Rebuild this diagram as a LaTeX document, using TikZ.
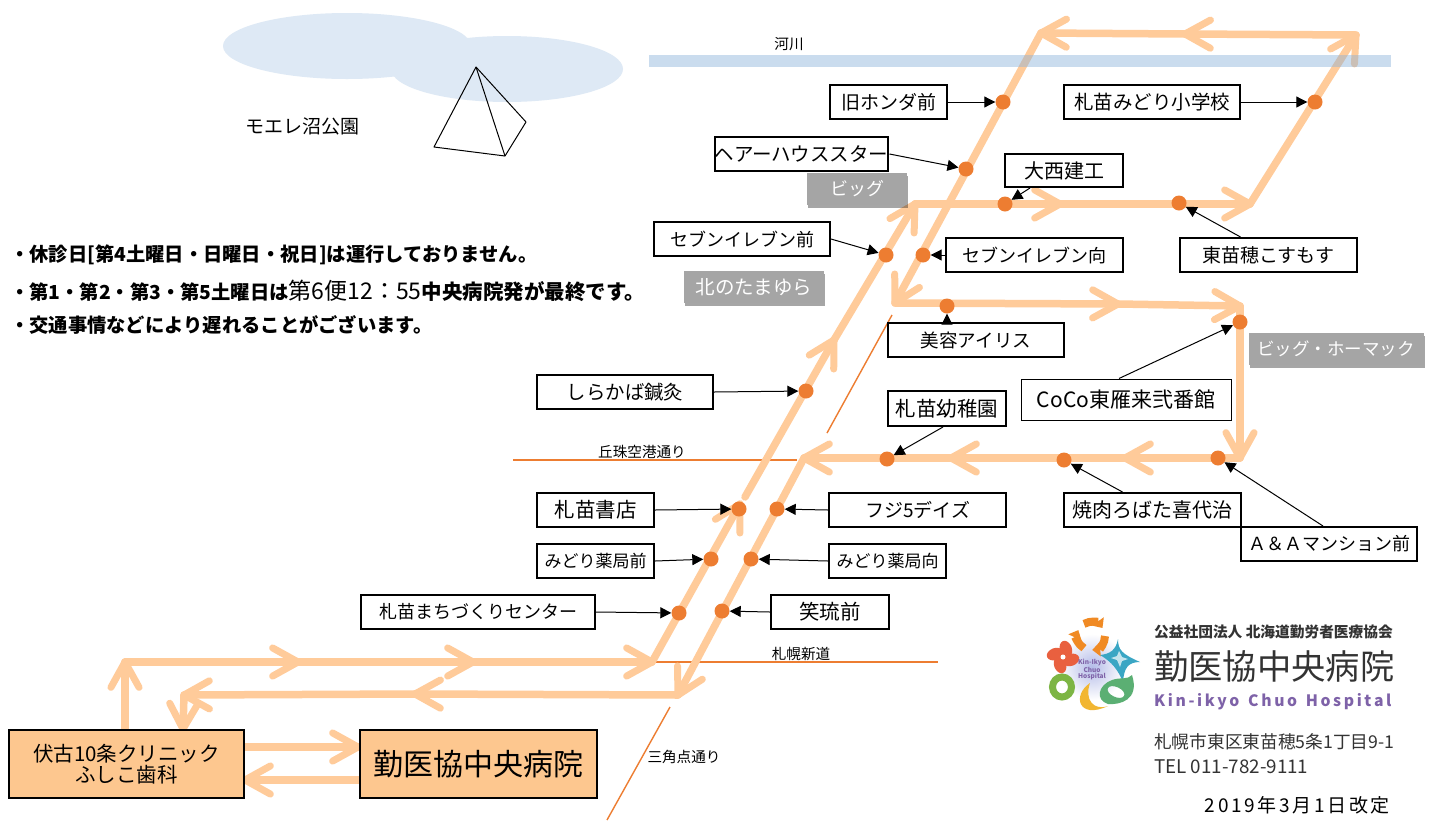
\documentclass[tikz,border=0pt]{standalone}
\usepackage{fontspec}
\setmainfont{Noto Sans CJK JP}
\usetikzlibrary{arrows.meta,shadows,calc}
\definecolor{routec}{HTML}{FFCB9A}
\definecolor{dotc}{HTML}{ED7D31}
\definecolor{parkc}{HTML}{DEE9F5}
\definecolor{riverc}{HTML}{8AB2DA}
\definecolor{greyc}{HTML}{A5A5A5}
\definecolor{boxc}{HTML}{FDC78F}
\definecolor{logoink}{HTML}{333333}
\definecolor{logopurple}{HTML}{7E62A8}
\definecolor{logoorange}{HTML}{F08A24}
\definecolor{logored}{HTML}{E9603F}
\definecolor{logoteal}{HTML}{3AA6C4}
\definecolor{logogreen}{HTML}{7DB544}
\definecolor{logoyellow}{HTML}{F2B632}
\definecolor{logodrop}{HTML}{5BAF73}
\definecolor{logoblob}{HTML}{B4BCE8}
\newcommand{\fs}[1]{\fontsize{#1pt}{#1pt}\selectfont}
\newcommand{\routeseg}[2]{%
  \draw[routeline] (#1) -- (#2);
  \draw[routewing] ($(#2)!29pt!29:(#1)$) -- (#2) -- ($(#2)!29pt!-29:(#1)$);
}
\tikzset{
  routeline/.style={draw=routec,line width=7.5pt,line cap=round,line join=round},
  routewing/.style={draw=routec,line width=7pt,line cap=round,line join=round},
  stopbox/.style={draw=black,line width=2pt,fill=white,minimum height=34pt,inner sep=0pt,font=\fs{19}},
  thinbox/.style={draw=black,line width=1pt,fill=white,inner sep=0pt,font=\fs{21}},
  areabox/.style={fill=greyc,text=white,minimum height=32pt,inner sep=0pt,font=\fs{18},
    drop shadow={shadow xshift=1pt,shadow yshift=-2.5pt,opacity=.35,fill=black}},
  basebox/.style={draw=black,line width=2pt,fill=boxc,minimum height=68pt,inner sep=0pt,align=center},
  stopdot/.style={circle,fill=dotc,minimum size=15pt,inner sep=0pt},
  lead/.style={draw=black,line width=1pt,-{Triangle[length=11pt,width=11pt]}},
  road/.style={draw=dotc,line width=1.4pt},
  lbl/.style={inner sep=0pt,font=\fs{14.6}},
  pyr/.style={draw=black,line width=1pt,line join=round},
  notetext/.style={inner sep=0pt,anchor=west,font=\bfseries\fs{19.3}},
  logotext/.style={inner sep=0pt,anchor=west,text=logoink},
}
\begin{document}
\begin{tikzpicture}[x=1pt,y=-1pt]
\useasboundingbox (0,0) rectangle (1430,820);
\fill[white] (0,0) rectangle (1430,820);

% park
\fill[parkc] (347,46) ellipse [x radius=124,y radius=33];
\fill[parkc] (507,69) ellipse [x radius=116,y radius=33];
\coordinate (pa) at (476,67);
\coordinate (pb) at (434,147);
\coordinate (pc) at (505,156);
\coordinate (pd) at (526,122);
\draw[pyr] (pa) -- (pb) -- (pc) -- (pd) -- cycle;
\draw[pyr] (pa) -- (pc);
\node[lbl,font=\fs{19}] (park) at (302,126) {モエレ沼公園};

% roads
\coordinate (ra1) at (513,460); \coordinate (ra2) at (797,460);
\coordinate (rb1) at (827,433); \coordinate (rb2) at (892,315);
\coordinate (rc1) at (655,662); \coordinate (rc2) at (938,662);
\coordinate (rd1) at (607,820); \coordinate (rd2) at (670,707);
\draw[road] (ra1) -- (ra2);
\draw[road] (rb1) -- (rb2);
\draw[road] (rc1) -- (rc2);
\draw[road] (rd1) -- (rd2);
\node[lbl] (lra) at (642,452) {丘珠空港通り};
\node[lbl] (lrc) at (801,654) {札幌新道};
\node[lbl] (lrd) at (684,757) {三角点通り};
\node[lbl] (lriv) at (789,44) {河川};

% route points
\coordinate (a0) at (125,730);
\coordinate (a1) at (125,662);
\coordinate (a2) at (298,662);
\coordinate (a3) at (473,662);
\coordinate (a4) at (652,662);
\coordinate (a5) at (740,504);
\coordinate (a5b) at (745,497);
\coordinate (a6) at (834,340);
\coordinate (a7) at (915,204);
\coordinate (a8) at (1060,204);
\coordinate (a9) at (1250,204);
\coordinate (a10) at (1356,35);
\coordinate (a11) at (1185,34);
\coordinate (a12) at (1041,33);
\coordinate (a13) at (895,303);
\coordinate (a14) at (1118,304);
\coordinate (a15) at (1240,306);
\coordinate (a16) at (1240,458);
\coordinate (a17) at (1125,458);
\coordinate (a18) at (951,458);
\coordinate (a19) at (804,458);
\coordinate (a20) at (678,695);
\coordinate (a21) at (415,694);
\coordinate (a22) at (184,695);
\coordinate (a23) at (183,729);
\coordinate (b1) at (245,747);
\coordinate (b2) at (358,747);
\coordinate (b3) at (360,780);
\coordinate (b4) at (245,780);

\routeseg{a0}{a1}
\routeseg{a1}{a2}
\routeseg{a2}{a3}
\routeseg{a3}{a4}
\routeseg{a4}{a5}
\routeseg{a5b}{a6}
\routeseg{a6}{a7}
\routeseg{a7}{a8}
\routeseg{a8}{a9}
\routeseg{a9}{a10}
\routeseg{a10}{a11}
\routeseg{a11}{a12}
\routeseg{a12}{a13}
\routeseg{a13}{a14}
\routeseg{a14}{a15}
\routeseg{a15}{a16}
\routeseg{a16}{a17}
\routeseg{a17}{a18}
\routeseg{a18}{a19}
\routeseg{a19}{a20}
\routeseg{a20}{a21}
\routeseg{a21}{a22}
\routeseg{a22}{a23}
\routeseg{b1}{b2}
\routeseg{b3}{b4}

% base boxes
\node[basebox,minimum width=235pt,font=\fs{20.5}] (fushiko) at (126.5,764) {伏古10条クリニック\\[1pt]ふしこ歯科};
\node[basebox,minimum width=237pt,font=\fs{30}] (hosp) at (478.5,764) {勤医協中央病院};

% river over the route
\fill[riverc,opacity=.45] (649,55) rectangle (1391,67);

% dots
\node[stopdot] (d1) at (1003,102) {};
\node[stopdot] (d2) at (1315,102) {};
\node[stopdot] (d3) at (966,169) {};
\node[stopdot] (d4) at (1005,204) {};
\node[stopdot] (d5) at (1179,203) {};
\node[stopdot] (d6) at (886,255) {};
\node[stopdot] (d7) at (923,255) {};
\node[stopdot] (d8) at (947,306) {};
\node[stopdot] (d9) at (1240,322) {};
\node[stopdot] (d10) at (1218,458) {};
\node[stopdot] (d11) at (1064,460) {};
\node[stopdot] (d12) at (887,459) {};
\node[stopdot] (d13) at (806,391) {};
\node[stopdot] (d14) at (739,509) {};
\node[stopdot] (d15) at (777,509) {};
\node[stopdot] (d16) at (711,559) {};
\node[stopdot] (d17) at (751,559) {};
\node[stopdot] (d18) at (679,613) {};
\node[stopdot] (d19) at (722,611) {};

% area labels
\node[areabox,minimum width=100pt] (big) at (857,189) {ビッグ};
\node[areabox,minimum width=140pt,font=\fs{19.5}] (tama) at (754,287) {北のたまゆら};
\node[areabox,minimum width=175pt,font=\fs{17.5}] (home) at (1336,349) {ビッグ・ホーマック};

% stops
\node[stopbox,minimum width=117pt] (s1) at (888.5,102) {旧ホンダ前};
\node[stopbox,minimum width=176pt,font=\fs{19.5}] (s2) at (1152,102) {札苗みどり小学校};
\node[stopbox,minimum width=173pt,font=\fs{19.5}] (s3) at (801.5,154) {ヘアーハウススター};
\node[stopbox,minimum width=118pt,minimum height=33pt,font=\fs{20}] (s4) at (1064,170.5) {大西建工};
\node[stopbox,minimum width=177pt] (s5) at (1268.5,255) {東苗穂こすもす};
\node[stopbox,minimum width=176pt,font=\fs{18}] (s6) at (742,239) {セブンイレブン前};
\node[stopbox,minimum width=177pt,font=\fs{18}] (s7) at (1034.5,255) {セブンイレブン向};
\node[stopbox,minimum width=176pt,font=\fs{18.5}] (s8) at (976,340) {美容アイリス};
\node[thinbox,minimum width=210pt,minimum height=41pt] (s9) at (1126,399.5) {CoCo東雁来弐番館};
\node[stopbox,minimum width=176pt,font=\fs{19.4}] (s13) at (625,392) {しらかば鍼灸};
\node[stopbox,minimum width=118pt,minimum height=35pt,font=\fs{20.5}] (s12) at (947,408.5) {札苗幼稚園};
\node[stopbox,minimum width=177pt,font=\fs{20}] (s11) at (1152.5,510) {焼肉ろばた喜代治};
\node[stopbox,minimum width=176pt,font=\fs{18}] (s10) at (1329,544) {Ａ＆Ａマンション前};
\node[stopbox,minimum width=117pt,font=\fs{20.5}] (s14) at (595.5,510) {札苗書店};
\node[stopbox,minimum width=177pt] (s15) at (917.5,510) {フジ5デイズ};
\node[stopbox,minimum width=117pt,font=\fs{17}] (s16) at (595.5,561) {みどり薬局前};
\node[stopbox,minimum width=117pt,font=\fs{17}] (s17) at (887.5,561) {みどり薬局向};
\node[stopbox,minimum width=234pt,font=\fs{18}] (s18) at (478,612) {札苗まちづくりセンター};
\node[stopbox,minimum width=118pt,font=\fs{20.5}] (s19) at (830,612) {笑琉前};

% leaders
\draw[lead] (s1.east) -- (d1);
\draw[lead] (s2.east) -- (d2);
\draw[lead] (s3.east) -- (d3);
\draw[lead] ([xshift=-34pt]s4.south) -- (d4);
\draw[lead] ([xshift=-28pt]s5.north) -- (d5);
\draw[lead] (s6.east) -- (d6);
\draw[lead] (s7.west) -- (d7);
\draw[lead] ([xshift=-29pt]s8.north) -- (d8);
\draw[lead] ([xshift=-7pt]s9.north) -- (d9);
\draw[lead] ([xshift=-6pt]s10.north) -- (d10);
\draw[lead] ([xshift=-30pt]s11.north) -- (d11);
\draw[lead] ([xshift=-4pt]s12.south) -- (d12);
\draw[lead] (s13.east) -- (d13);
\draw[lead] (s14.east) -- (d14);
\draw[lead] (s15.west) -- (d15);
\draw[lead] (s16.east) -- (d16);
\draw[lead] (s17.west) -- (d17);
\draw[lead] (s18.east) -- (d18);
\draw[lead] (s19.west) -- (d19);

% notes
\node[notetext] (n1) at (10,255) {・休診日[第4土曜日・日曜日・祝日]は運行しておりません。};
\node[notetext] (n2) at (10,291) {・第1・第2・第3・第5土曜日は{\mdseries\fs{23}第6便12：55}{\fs{20.5}中央病院発が最終です。}};
\node[notetext] (n3) at (10,325) {・交通事情などにより遅れることがございます。};

% logo emblem
\shade[inner color=logoblob,outer color=white] (1092,667) circle (33);
\foreach \r in {0,120,240}{
  \draw[draw=logoorange,line width=8pt,-{Triangle[length=8pt,width=14pt]}]
    ($(1091,636)+(\r:14)$) arc [start angle=\r,end angle=\r+85,radius=14];
}
\foreach \r in {20,110,200,290}{
  \fill[logored] (1063,657) ++(\r:8.5) ellipse [x radius=8.5,y radius=6,rotate=\r];
}
\fill[white] (1063,657) circle (2.5);
\fill[logoteal] (1118,639) .. controls (1118,650) and (1122,654) .. (1140,662)
  .. controls (1128,662) and (1124,668) .. (1123,682)
  .. controls (1118,670) and (1112,662) .. (1100,655)
  .. controls (1110,654) and (1116,650) .. cycle;
\fill[white!70!logoteal] (1119,651) -- (1122,657) -- (1128,659) -- (1122,661) -- (1120,667) -- (1117,660) -- (1111,658) -- (1117,656) -- cycle;
\draw[draw=logogreen,line width=7pt] (1062,687) ellipse [x radius=9.5,y radius=10];
\fill[logoyellow] (1090,683) .. controls (1072,695) and (1078,720) .. (1108,706) .. controls (1094,711) and (1084,700) .. cycle;
\fill[logodrop,even odd rule] (1132,675) .. controls (1140,700) and (1120,705) .. (1108,704) .. controls (1095,700) and (1098,685) .. (1112,680) .. controls (1120,677) and (1128,680) .. cycle
  (1116,692) ellipse [x radius=9,y radius=5,rotate=-25];
\node[inner sep=0pt,align=center,text=logopurple,font=\bfseries\fs{6.5}] (emb) at (1092,669.5) {Kin-Ikyo\\[-0.5pt]Chuo\\[-0.5pt]Hospital};

% logo text
\node[logotext,font=\bfseries\fs{14.7}] (l1) at (1154,632) {公益社団法人 北海道勤労者医療協会};
\node[logotext,font=\fs{34.3}] (l2) at (1154,667) {勤医協中央病院};
\node[logotext,text=logopurple,font=\bfseries\fs{15.7}] (l3) at (1154,702) {K\,i\,n\,-\,i\,k\,y\,o\;\;C\,h\,u\,o\;\;H\,o\,s\,p\,i\,t\,a\,l};
\node[logotext,font=\fs{17.7}] (l4) at (1154,742) {札幌市東区東苗穂5条1丁目9-1};
\node[logotext,font=\fs{18.8}] (l5) at (1154,767) {TEL 011-782-9111};
\node[inner sep=0pt,anchor=east,font=\fs{19}\addfontfeature{LetterSpace=14}] (date) at (1390,805) {2019年3月1日改定};
\end{tikzpicture}
\end{document}
